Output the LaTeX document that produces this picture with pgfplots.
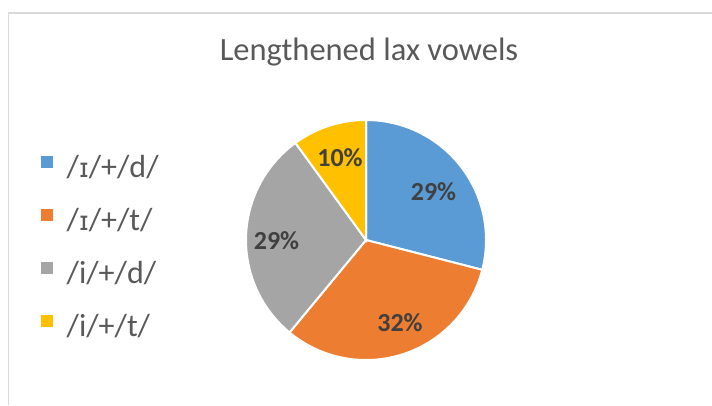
\documentclass[border=0pt]{standalone}
\usepackage{fontspec}
\setmainfont{Carlito}
\newfontfamily\ipa{DejaVu Sans}[Scale=0.82]
\usepackage{pgfplots}
\usepackage{pgfplotstable}
\pgfplotsset{compat=1.18}
\definecolor{cBlue}{HTML}{5B9BD5}
\definecolor{cOrange}{HTML}{ED7D31}
\definecolor{cGray}{HTML}{A5A5A5}
\definecolor{cYellow}{HTML}{FFC000}
\definecolor{cBorder}{HTML}{D9D9D9}
\definecolor{cTitle}{HTML}{595959}
\definecolor{cLabel}{HTML}{404040}

\pgfplotstableread{
share
29
32
29
10
}\pietable

\begin{document}
\begin{tikzpicture}
\useasboundingbox (0,0) rectangle (712pt,405pt);
\draw[cBorder, line width=1.2pt] (8.5pt,0) -- (8.5pt,392pt) -- (712pt,392pt);
\pgfplotstablegetelem{0}{share}\of\pietable \let\sA\pgfplotsretval
\pgfplotstablegetelem{1}{share}\of\pietable \let\sB\pgfplotsretval
\pgfplotstablegetelem{2}{share}\of\pietable \let\sC\pgfplotsretval
\pgfplotstablegetelem{3}{share}\of\pietable \let\sD\pgfplotsretval
\pgfmathsetmacro\tot{\sA+\sB+\sC+\sD}
\pgfmathsetmacro\aA{0}
\pgfmathsetmacro\aB{\aA+360*\sA/\tot}
\pgfmathsetmacro\aC{\aB+360*\sB/\tot}
\pgfmathsetmacro\aD{\aC+360*\sC/\tot}
\pgfmathsetmacro\aE{\aD+360*\sD/\tot}
\begin{axis}[at={(0,0)}, anchor=south west, width=712pt, height=405pt,
  scale only axis, xmin=0, xmax=712, ymin=0, ymax=405, hide axis, clip=false,
  legend style={at={(axis cs:41,252)}, anchor=north west, draw=none, fill=none,
    inner sep=0pt, row sep=21pt, font=\fontsize{32}{38}\selectfont, text=cTitle,
    nodes={inner sep=0pt, text height=24pt, text depth=8pt}},
  legend cell align=left,
  legend image code/.code={\fill[#1,draw=none] (0pt,1.5pt) rectangle (12pt,13.5pt); \path (24.5pt,0pt);},
]
\addplot[fill=cBlue, draw=white, line width=2pt, domain=\aA:\aB, samples=80]
  ({366+120*sin(x)},{165+120*cos(x)}) -- (axis cs:366,165) -- cycle;
\addlegendentry{/{\ipa ɪ}/+/d/}
\addplot[fill=cOrange, draw=white, line width=2pt, domain=\aB:\aC, samples=80]
  ({366+120*sin(x)},{165+120*cos(x)}) -- (axis cs:366,165) -- cycle;
\addlegendentry{/{\ipa ɪ}/+/t/}
\addplot[fill=cGray, draw=white, line width=2pt, domain=\aC:\aD, samples=80]
  ({366+120*sin(x)},{165+120*cos(x)}) -- (axis cs:366,165) -- cycle;
\addlegendentry{/i/+/d/}
\addplot[fill=cYellow, draw=white, line width=2pt, domain=\aD:\aE, samples=40]
  ({366+120*sin(x)},{165+120*cos(x)}) -- (axis cs:366,165) -- cycle;
\addlegendentry{/i/+/t/}
\node[anchor=base, text=cTitle, font=\fontsize{32.5}{40}\selectfont, inner sep=0pt] at (axis cs:369,344) {Lengthened lax vowels};
\begin{scope}[every node/.style={text=cLabel, font=\fontsize{26}{30}\selectfont\bfseries, inner sep=0pt}]
\node at (axis cs:433.5,213.5) {29\%};
\node at (axis cs:340,247.5) {10\%};
\node at (axis cs:276.5,164.5) {29\%};
\node at (axis cs:400,82) {32\%};
\end{scope}
\end{axis}
\end{tikzpicture}
\end{document}
